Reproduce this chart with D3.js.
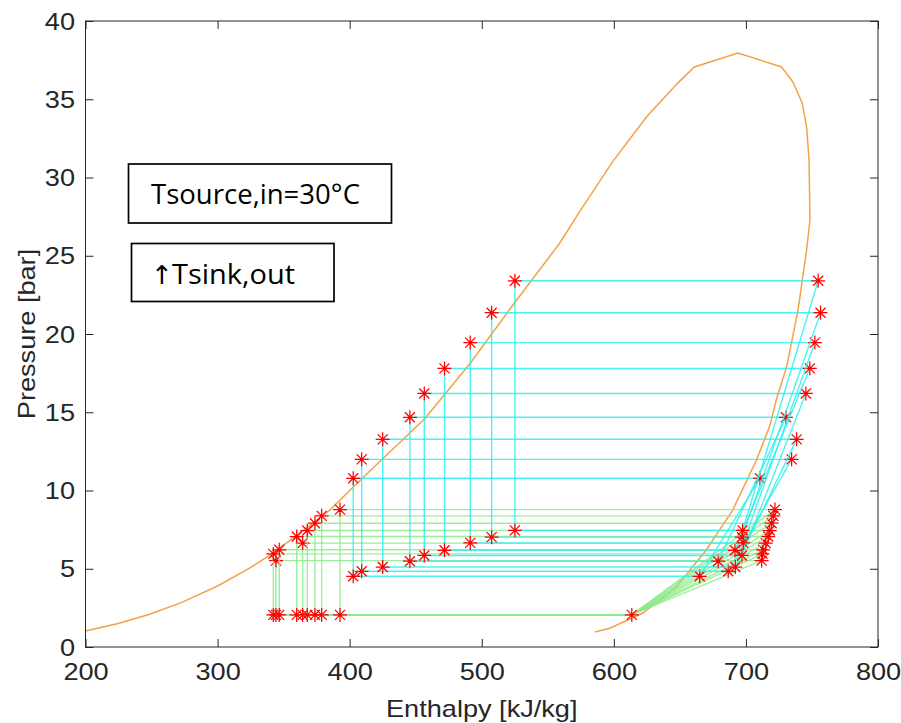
<!DOCTYPE html>
<html>
<head>
<meta charset="utf-8">
<script src="https://cdn.jsdelivr.net/npm/d3@7"></script>
<style>
  body { margin: 0; background: #fff; }
</style>
</head>
<body>
<div id="chart"></div>
<script>
// saturation dome (enthalpy kJ/kg, pressure bar)
const domeH = [200, 224, 248, 273, 300, 324.5, 341, 361, 385, 400, 424, 457, 491, 523.6, 559, 574, 599, 625, 648, 661,
               694, 727, 735.6, 742.5, 746, 747.8, 748.5, 746, 739.4, 730.8, 723, 718, 708, 690, 670, 647.5, 622, 597, 585.7];
const domeP = [1.02, 1.48, 2.08, 2.85, 3.9, 5.05, 5.95, 7.2, 8.75, 10.0, 11.95, 14.6, 18.1, 21.85, 25.8, 27.8, 31.0, 33.9, 36.0, 37.06,
               37.96, 37.06, 36.1, 34.8, 33.2, 31.1, 27.3, 25.4, 21.5, 17.9, 15.8, 14.1, 11.95, 8.75, 6.2, 3.85, 2.17, 1.2, 0.96];

// green cycles: common evaporator at 2.05 bar
const greenPc   = [5.52, 5.95, 6.21, 6.64, 7.06, 7.44, 7.91, 8.38, 8.78];
const greenHl   = [344.2, 342.2, 346.7, 364.4, 359.9, 367.9, 373.7, 378.8, 392.7];
const greenHout = [711.9, 712.5, 713.0, 715.0, 716.9, 718.0, 719.5, 720.7, 722.0];
const greenPe   = 2.05;
const greenHin  = 613.6;

// cyan cycles
const cyanPc   = [10.78, 11.99, 13.27, 14.68, 16.2, 17.8, 19.45, 21.36, 23.4];
const cyanHl   = [402.7, 409.1, 425.0, 445.6, 456.5, 471.8, 491.3, 507.5, 525.1];
const cyanPe   = [4.52, 4.84, 5.11, 5.48, 5.85, 6.18, 6.65, 7.02, 7.45];
const cyanHin  = [665.0, 686.6, 692.0, 679.0, 697.0, 691.7, 698.0, 697.0, 697.5];
const cyanHout = [710.6, 734.6, 738.4, 730.3, 745.4, 748.4, 752.2, 756.5, 754.7];

const xTicks = [200, 300, 400, 500, 600, 700, 800];
const yTicks = [0, 5, 10, 15, 20, 25, 30, 35, 40];

const width = 901, height = 723;
const margin = { left: 85.5, right: 23, top: 21, bottom: 76 };

const svg = d3.select('#chart').append('svg')
    .attr('width', width)
    .attr('height', height);

const x = d3.scaleLinear().domain([200, 800]).range([margin.left, width - margin.right]);
const y = d3.scaleLinear().domain([0, 40]).range([height - margin.bottom, margin.top]);

const axisColor = '#262626';
const font = '"Liberation Sans", Arial, sans-serif';

// clip so nothing leaves the axes box
svg.append('clipPath').attr('id', 'clip')
    .append('rect')
    .attr('x', x(200)).attr('y', y(40))
    .attr('width', x(800) - x(200)).attr('height', y(0) - y(40));

const plot = svg.append('g').attr('clip-path', 'url(#clip)');

// saturation dome
const line = d3.line().x((d, i) => x(domeH[i])).y((d, i) => y(domeP[i]));
plot.append('path')
    .attr('d', line(domeH))
    .attr('fill', 'none')
    .attr('stroke', '#f5a047')
    .attr('stroke-width', 1.5);

// asterisk marker like MATLAB '*'
function star(cx, cy) {
    const r = 7, d = 5;
    return `M${cx - r},${cy}H${cx + r}M${cx},${cy - r}V${cy + r}` +
           `M${cx - d},${cy - d}L${cx + d},${cy + d}M${cx - d},${cy + d}L${cx + d},${cy - d}`;
}

function drawStars(pts) {
    plot.append('g')
        .selectAll('path')
        .data(pts)
        .join('path')
        .attr('d', p => star(x(p[0]), y(p[1])))
        .attr('fill', 'none')
        .attr('stroke', '#ff0000')
        .attr('stroke-width', 1.25);
}

function drawCycle(pts, color, markers) {
    // pts: [liquid top, expansion outlet, compressor inlet, compressor outlet]
    const [a, b, c, e] = pts;
    const segs = [[a, b], [b, c], [c, e], [e, a]];
    plot.append('g')
        .attr('stroke', color)
        .attr('stroke-width', 1.4)
        .attr('stroke-opacity', 0.85)
        .selectAll('line')
        .data(segs)
        .join('line')
        .attr('x1', s => x(s[0][0])).attr('y1', s => y(s[0][1]))
        .attr('x2', s => x(s[1][0])).attr('y2', s => y(s[1][1]));
    drawStars(markers);
}

greenPc.forEach((pc, i) => {
    const pts = [
        [greenHl[i], pc],
        [greenHl[i], greenPe],
        [greenHin, greenPe],
        [greenHout[i], pc]
    ];
    // the shared inlet point is marked only once
    drawCycle(pts, '#8ceb8c', i === greenPc.length - 1 ? pts : [pts[0], pts[1], pts[3]]);
});

cyanPc.forEach((pc, i) => {
    const pts = [
        [cyanHl[i], pc],
        [cyanHl[i], cyanPe[i]],
        [cyanHin[i], cyanPe[i]],
        [cyanHout[i], pc]
    ];
    drawCycle(pts, '#2af0f0', pts);
});

// axes box
svg.append('rect')
    .attr('x', x(200)).attr('y', y(40))
    .attr('width', x(800) - x(200)).attr('height', y(0) - y(40))
    .attr('fill', 'none')
    .attr('stroke', axisColor)
    .attr('stroke-width', 1);

const tickLen = 8;

const xAxis = svg.append('g')
    .attr('transform', `translate(0,${y(0)})`)
    .call(d3.axisBottom(x).tickValues(xTicks).tickSizeInner(-tickLen).tickSizeOuter(0).tickFormat(d3.format('d')));
const xAxisTop = svg.append('g')
    .attr('transform', `translate(0,${y(40)})`)
    .call(d3.axisTop(x).tickValues(xTicks).tickSizeInner(-tickLen).tickSizeOuter(0).tickFormat(''));
const yAxis = svg.append('g')
    .attr('transform', `translate(${x(200)},0)`)
    .call(d3.axisLeft(y).tickValues(yTicks).tickSizeInner(-tickLen).tickSizeOuter(0).tickFormat(d3.format('d')));
const yAxisRight = svg.append('g')
    .attr('transform', `translate(${x(800)},0)`)
    .call(d3.axisRight(y).tickValues(yTicks).tickSizeInner(-tickLen).tickSizeOuter(0).tickFormat(''));

[xAxis, xAxisTop, yAxis, yAxisRight].forEach(g => {
    g.select('.domain').remove();
    g.selectAll('.tick line').attr('stroke', axisColor);
});

xAxis.selectAll('.tick text')
    .attr('y', 0).attr('dy', null)
    .attr('transform', 'translate(0,33) scale(1.18,1)')
    .style('font-family', font)
    .style('font-size', '23px')
    .attr('fill', axisColor);

yAxis.selectAll('.tick text')
    .attr('x', 0).attr('dy', '0.35em')
    .attr('transform', 'translate(-10.5,0) scale(1.18,1)')
    .style('font-family', font)
    .style('font-size', '23px')
    .attr('fill', axisColor);

// axis labels
svg.append('text')
    .attr('transform', `translate(${(x(200) + x(800)) / 2},717) scale(1.18,1)`)
    .attr('text-anchor', 'middle')
    .style('font-family', font)
    .style('font-size', '23px')
    .attr('fill', axisColor)
    .text('Enthalpy [kJ/kg]');

svg.append('text')
    .attr('transform', `translate(35,${(y(0) + y(40)) / 2}) rotate(-90) scale(1.18,1)`)
    .attr('text-anchor', 'middle')
    .style('font-family', font)
    .style('font-size', '23px')
    .attr('fill', axisColor)
    .text('Pressure [bar]');

// annotation boxes
const boxFont = '"Open Sans", "Noto Sans", sans-serif';

svg.append('rect')
    .attr('x', 128.5).attr('y', 164).attr('width', 263).attr('height', 59)
    .attr('fill', '#fff').attr('stroke', '#000').attr('stroke-width', 1.7);
svg.append('text')
    .attr('x', 151).attr('y', 204)
    .attr('textLength', 209).attr('lengthAdjust', 'spacingAndGlyphs')
    .style('font-family', boxFont)
    .style('font-size', '27px')
    .attr('fill', '#000')
    .text('Tsource,in=30°C');

svg.append('rect')
    .attr('x', 131.5).attr('y', 243.5).attr('width', 202.5).attr('height', 58)
    .attr('fill', '#fff').attr('stroke', '#000').attr('stroke-width', 1.7);
svg.append('text')
    .attr('x', 151).attr('y', 284)
    .style('font-family', '"DejaVu Sans", sans-serif')
    .style('font-size', '26px')
    .attr('fill', '#000')
    .text('↑');
svg.append('text')
    .attr('x', 172).attr('y', 284)
    .attr('textLength', 123).attr('lengthAdjust', 'spacingAndGlyphs')
    .style('font-family', boxFont)
    .style('font-size', '27px')
    .attr('fill', '#000')
    .text('Tsink,out');
</script>
</body>
</html>
